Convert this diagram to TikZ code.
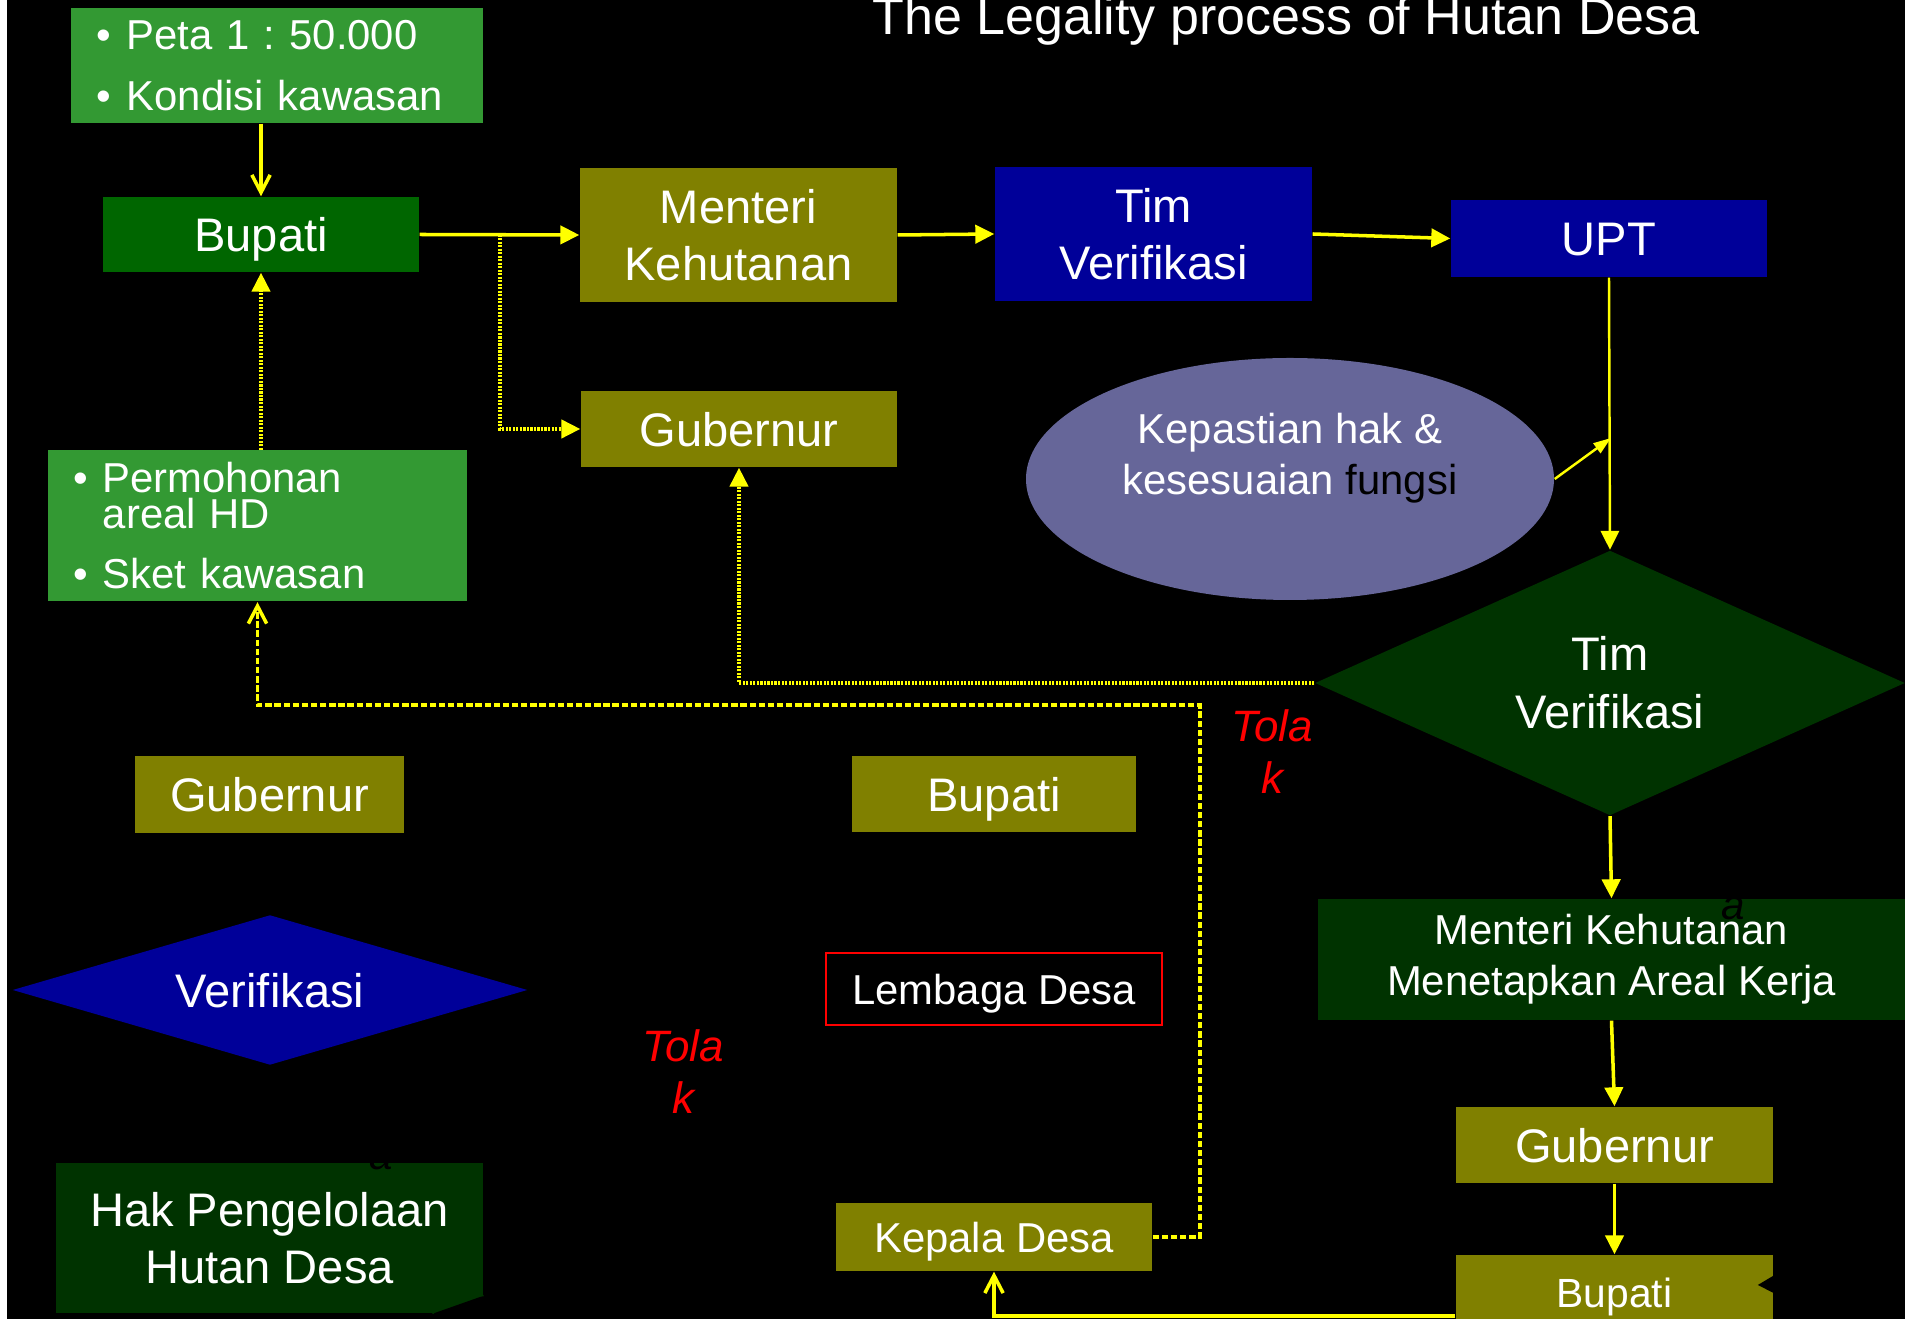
\documentclass[tikz,border=0pt]{standalone}
\usepackage{fontspec}
\setmainfont{Liberation Sans}
\usetikzlibrary{arrows.meta,shapes.geometric}
\frenchspacing

\definecolor{leafgreen}{HTML}{339933}
\definecolor{bupgreen}{HTML}{006600}
\definecolor{boxolive}{HTML}{808000}
\definecolor{boxblue}{HTML}{000099}
\definecolor{boxdark}{HTML}{003300}
\definecolor{lavender}{HTML}{666699}
\definecolor{flowyellow}{HTML}{FFFF00}

\begin{document}
\begin{tikzpicture}[x=0.1mm,y=-0.1mm,>={Triangle[length=5.4pt,width=5.2pt]},
	every node/.style={inner sep=0pt,text=white,align=center},
	boxsize/.style 2 args={minimum width=#1,minimum height=#2},
	oneline/.style={text height=#1,text depth=0pt},
	greenbox/.style={rectangle,fill=leafgreen},
	olivebox/.style={rectangle,fill=boxolive},
	bluebox/.style={rectangle,fill=boxblue},
	darkbox/.style={rectangle,fill=boxdark},
	bigtext/.style={font=\fontsize{13.4}{16.2}\selectfont},
	midtext/.style={font=\fontsize{11.9}{14.3}\selectfont},
	tolak/.style={text=red,font=\fontsize{12.5}{14.8}\selectfont\itshape},
	flow/.style={draw=flowyellow,line width=1pt},
	dotflow/.style={flow,dash pattern=on 0.6pt off 0.4pt},
	dashflow/.style={flow,dash pattern=on 1.8pt off 0.8pt},
	openhead/.style={-{Straight Barb[length=5pt,width=5.2pt]}}]

\useasboundingbox (0,0) rectangle (1905,1319);
\fill[white] (0,0) rectangle (1905,1319);
\fill[black] (7,0) rectangle (1905,1319);
\clip (0,0) rectangle (1905,1319);

\node[anchor=base west,font=\fontsize{14.8}{17}\selectfont] (title) at (872,35) {The Legality process of Hutan Desa};

% upper flow
\node[greenbox,boxsize={41.2mm}{11.5mm},text width=36.2mm,align=left,font=\fontsize{11.9}{17.4}\selectfont] (peta) at (277,65.5)
	{\textbullet\hspace{4.6pt}Peta 1 : 50.000\\\textbullet\hspace{4.6pt}Kondisi kawasan};
\node[rectangle,fill=bupgreen,boxsize={31.6mm}{7.5mm},bigtext,oneline=9.8pt] (bupati1) at (261,234.5) {Bupati};
\node[olivebox,boxsize={31.7mm}{13.4mm},bigtext] (menteri) at (738.5,235) {Menteri\\Kehutanan};
\node[bluebox,boxsize={31.7mm}{13.4mm},bigtext] (timver) at (1153.5,234) {Tim\\Verifikasi};
\node[bluebox,boxsize={31.6mm}{7.7mm},bigtext,oneline=9.8pt] (upt) at (1609,238.5) {UPT};
\node[olivebox,boxsize={31.6mm}{7.6mm},bigtext,oneline=9.8pt] (gub1) at (739,429) {Gubernur};
\node[ellipse,fill=lavender,boxsize={52.8mm}{24.2mm},midtext] (kep) at (1290,479)
	{Kepastian hak \&\\kesesuaian {\color{black}fungsi}\\\mbox{}};
\node[greenbox,boxsize={41.9mm}{15.1mm},text width=36.9mm,align=left,font=\fontsize{11.9}{10}\selectfont] (perm) at (257.5,526)
	{\textbullet\hspace{4.3pt}Permohonan\\\hspace*{8.5pt}areal HD\\[7.3pt]\textbullet\hspace{4.3pt}Sket kawasan};
\node[diamond,aspect=2.2,fill=boxdark,boxsize={59mm}{26.5mm},font=\fontsize{13.4}{16.5}\selectfont] (tv2) at (1610,683) {Tim\\Verifikasi};
\node[tolak] (tolak1) at (1272,752) {Tola\\k};

% lower part
\node[olivebox,boxsize={26.9mm}{7.7mm},bigtext,oneline=9.8pt] (gub2) at (269.5,794.5) {Gubernur};
\node[olivebox,boxsize={28.4mm}{7.6mm},bigtext,oneline=9.8pt] (bup2) at (994,794) {Bupati};
\node[diamond,aspect=3.4,fill=boxblue,boxsize={51.5mm}{15mm},bigtext,oneline=9.8pt] (verif) at (270,990) {Verifikasi};
\node[rectangle,draw=red,line width=0.6pt,fill=black,boxsize={33.6mm}{7.2mm},midtext,oneline=8.7pt] (lembaga) at (994,989) {Lembaga Desa};
\node[darkbox,boxsize={58.7mm}{12.1mm},font=\fontsize{11.9}{14.5}\selectfont] (mka) at (1611.5,959.5) {Menteri Kehutanan\\Menetapkan Areal Kerja};
\node[tolak] (tolak2) at (683,1072) {Tola\\k};
\node[olivebox,boxsize={31.7mm}{7.6mm},bigtext,oneline=9.8pt] (gub3) at (1614.5,1145) {Gubernur};
\node[olivebox,boxsize={31.7mm}{7.6mm},font=\fontsize{11.6}{14}\selectfont,oneline=8.5pt] (bup3) at (1614.5,1293) {Bupati};
\node[olivebox,boxsize={31.6mm}{6.8mm},midtext,oneline=8.7pt] (kepala) at (994,1237) {Kepala Desa};
\node[darkbox,boxsize={42.7mm}{15mm},bigtext] (hak) at (269.5,1238) {Hak Pengelolaan\\Hutan Desa};
\fill[black] ([yshift=1.8mm]hak.south east) -- (hak.south east) -- ([xshift=-5.1mm]hak.south east) -- cycle;
\draw[boxdark,line width=0.4pt] ([xshift=-5.1mm]hak.south east) -- ([xshift=-3.6mm,yshift=1.7mm]hak.south east) -- ([yshift=1.8mm]hak.south east);

\node[text=black,font=\fontsize{12}{14}\selectfont\itshape] (amark1) at (381,1158) {a};
\node[text=black,font=\fontsize{12}{14}\selectfont\itshape] (amark2) at (1733,908) {a};

% connectors
\coordinate (split) at (500,234.5);
\coordinate (hit) at (1611,438);
\coordinate (turn) at (1200,705);
\coordinate (boff) at (1905,1280);

\draw[flow,openhead] (bupati1.north |- peta.south) -- (bupati1.north);
\draw[flow,->] (bupati1.east) -- (menteri.west);
\draw[dotflow,->] (split) |- (gub1.west);
\draw[flow,->] (menteri.east) -- (timver.west);
\draw[flow,->] (timver.east) -- (upt.west);
\draw[flow,line width=0.7pt,->] (upt.south) -- (tv2.north);
\draw[flow,line width=0.7pt,-{Triangle[length=5pt,width=3.4pt]}] (kep.east) -- (hit);
\draw[dotflow,->] (tv2.west) -| (gub1.south);
\draw[dashflow,openhead] (kepala.east) -| (turn) -| (perm.south);
\draw[dotflow,->] (bupati1.south |- perm.north) -- (bupati1.south);
\draw[flow,->] (tv2.south) -- (mka.north);
\draw[flow,->] (mka.south) -- (gub3.north);
\draw[flow,->] (gub3.south) -- (bup3.north);
\draw[flow,openhead] ([yshift=-2.3mm]bup3.west) -| (kepala.south);
\draw[black,line width=0.8pt,-{Triangle[length=4.6pt,width=4.8pt]}] (boff) -- ([xshift=-1.6mm,yshift=0.8mm]bup3.east);
\end{tikzpicture}
\end{document}
